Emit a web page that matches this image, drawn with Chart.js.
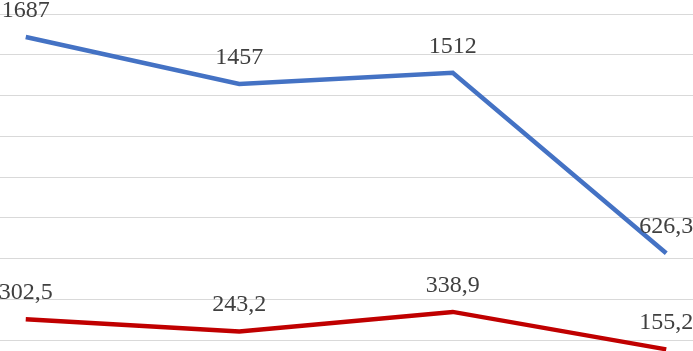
<!DOCTYPE html>
<html>
<head>
<meta charset="utf-8">
<script src="https://cdn.jsdelivr.net/npm/chart.js@4/dist/chart.umd.min.js"></script>
<style>
    html, body { margin: 0; padding: 0; background: #fff; overflow: hidden; width: 693px; height: 351px; }
    #wrap { position: absolute; left: -81px; top: 0; }
</style>
</head>
<body>
<div id="wrap"><canvas id="lineChart" width="854" height="390"></canvas></div>
<script>
// Chart data
const categories = ['1', '2', '3', '4'];
const blueSeries = [1687, 1457, 1512, 626.3];
const redSeries = [302.5, 243.2, 338.9, 155.2];
const yTicks = { min: 0, max: 1800, step: 200 };

// Draw the value above each point, comma as decimal separator
const valueLabels = {
    id: 'valueLabels',
    afterDatasetsDraw(chart) {
        const ctx = chart.ctx;
        ctx.save();
        ctx.font = '24px "Liberation Serif", "Times New Roman", serif';
        ctx.fillStyle = '#404040';
        ctx.textAlign = 'center';
        ctx.textBaseline = 'alphabetic';
        chart.data.datasets.forEach((ds, i) => {
            chart.getDatasetMeta(i).data.forEach((pt, j) => {
                const text = String(ds.data[j]).replace('.', ',');
                ctx.fillText(text, pt.x, pt.y - 20);
            });
        });
        ctx.restore();
    }
};

const ctx = document.getElementById('lineChart').getContext('2d');
new Chart(ctx, {
    type: 'line',
    data: {
        labels: categories,
        datasets: [{
            data: blueSeries,
            borderColor: '#4472C4',
            borderWidth: 4.5,
            pointRadius: 0,
            tension: 0,
            fill: false
        }, {
            data: redSeries,
            borderColor: '#C00000',
            borderWidth: 4.5,
            pointRadius: 0,
            tension: 0,
            fill: false
        }]
    },
    options: {
        responsive: false,
        animation: false,
        layout: { padding: { top: 14, bottom: 9, left: 0, right: 0 } },
        plugins: {
            legend: { display: false },
            tooltip: { enabled: false }
        },
        scales: {
            x: {
                display: false,
                offset: true
            },
            y: {
                min: yTicks.min,
                max: yTicks.max,
                ticks: { display: false, stepSize: yTicks.step },
                border: { display: false },
                grid: { color: '#D9D9D9', lineWidth: 1, drawTicks: false }
            }
        }
    },
    plugins: [valueLabels]
});
</script>
</body>
</html>
